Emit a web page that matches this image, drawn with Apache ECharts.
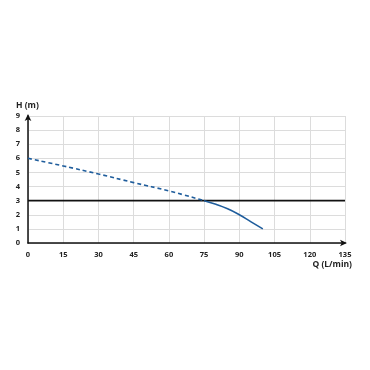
<!DOCTYPE html>
<html><head><meta charset="utf-8">
<script src="https://cdn.jsdelivr.net/npm/echarts@6/dist/echarts.min.js"></script>
<style>html,body{margin:0;padding:0;background:#fff}#c{width:370px;height:370px}</style>
</head><body><div id="c"></div>
<script>
const dashedQ = [0, 15, 30, 45, 60, 75];
const dashedH = [6.0, 5.46, 4.89, 4.28, 3.69, 3.0];
const solidQ = [75, 80, 85, 90, 95, 100];
const solidH = [3.0, 2.74, 2.42, 2.0, 1.5, 1.0];
const refQ = [0, 135];
const refH = [3, 3];
const xTicks = [0, 15, 30, 45, 60, 75, 90, 105, 120, 135];
const yTicks = [0,1,2,3,4,5,6,7,8,9];

const zip = (a, b) => a.map((v, i) => [v, b[i]]);
const font = 'Open Sans';
const chart = echarts.init(document.getElementById('c'));
chart.setOption({
  animation: false,
  grid: { left: 28, right: 25, top: 116, bottom: 127 },
  xAxis: {
    type: 'value', min: 0, max: 135, interval: 15,
    name: 'Q (L/min)', nameLocation: 'end',
    nameGap: 0,
    nameTextStyle: { color: '#222', fontFamily: font, fontWeight: 'bold', fontSize: 8.5, align: 'right', verticalAlign: 'top', padding: [17, -7, 0, 0] },
    axisLine: { show: true, onZero: false, lineStyle: { color: '#111', width: 1.5 }, symbol: ['none', 'arrow'], symbolSize: [5, 7], symbolOffset: [0, 2] },
    axisTick: { show: false },
    axisLabel: { color: '#222', fontFamily: font, fontWeight: 'bold', fontSize: 7.5, margin: 8,
      formatter: v => xTicks.includes(v) ? String(v) : '' },
    splitLine: { show: true, lineStyle: { color: '#dcdcdc', width: 1 } }
  },
  yAxis: {
    type: 'value', min: 0, max: 9, interval: 1,
    name: 'H (m)', nameLocation: 'end', nameGap: 0,
    nameTextStyle: { color: '#222', fontFamily: font, fontWeight: 'bold', fontSize: 8.5, align: 'left', verticalAlign: 'bottom', padding: [0, 0, 6, -12] },
    axisLine: { show: true, onZero: false, lineStyle: { color: '#111', width: 1.5 }, symbol: ['none', 'arrow'], symbolSize: [5, 7], symbolOffset: [0, 2] },
    axisTick: { show: false },
    axisLabel: { color: '#222', fontFamily: font, fontWeight: 'bold', fontSize: 7.5, margin: 8,
      formatter: v => yTicks.includes(v) ? String(v) : '' },
    splitLine: { show: true, lineStyle: { color: '#dcdcdc', width: 1 } }
  },
  series: [
    { type: 'line', data: zip(refQ, refH), symbol: 'none', lineStyle: { color: '#111', width: 1.6 }, z: 3 },
    { type: 'line', data: zip(dashedQ, dashedH), smooth: true, symbol: 'none', lineStyle: { color: '#1f5d9c', width: 1.6, type: [4, 3] }, z: 4 },
    { type: 'line', data: zip(solidQ, solidH), smooth: true, symbol: 'none', lineStyle: { color: '#1f5d9c', width: 1.6 }, z: 4 }
  ]
});
</script></body></html>
